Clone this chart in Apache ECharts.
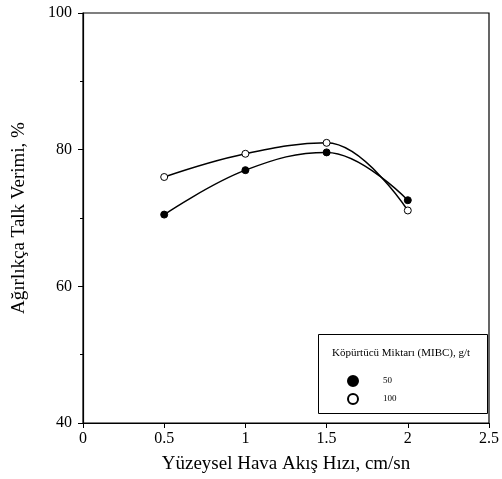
<!DOCTYPE html>
<html>
<head>
<meta charset="utf-8">
<script src="https://cdn.jsdelivr.net/npm/echarts@6/dist/echarts.min.js"></script>
<style>
  html, body { margin: 0; padding: 0; background: #fff; }
  #chart { width: 502px; height: 479px; }
</style>
</head>
<body>
<div id="chart"></div>
<script>
// values
const airSpeed = [0.5, 1, 1.5, 2];
const recovery50 = [70.5, 77.0, 79.6, 72.6];
const recovery100 = [76.0, 79.4, 81.0, 71.1];
const seriesNames = ["50", "100"];

const font = "Liberation Serif";
const pair = (xs, ys) => xs.map((x, i) => [x, ys[i]]);

const chart = echarts.init(document.getElementById("chart"));
chart.setOption({
  animation: false,
  textStyle: { fontFamily: font, color: "#000" },
  grid: {
    left: 83, right: 9, top: 13, bottom: 55,
    show: true, borderColor: "#000", borderWidth: 1.2
  },
  xAxis: {
    type: "value", min: 0, max: 2.5, interval: 0.5,
    name: "Yüzeysel Hava Akış Hızı, cm/sn",
    nameLocation: "middle", nameGap: 32,
    nameTextStyle: { fontFamily: font, fontSize: 19, color: "#000" },
    axisLine: { lineStyle: { color: "#000", width: 1.2 } },
    axisTick: { inside: false, length: 5, lineStyle: { color: "#000" } },
    axisLabel: { fontFamily: font, fontSize: 16, color: "#000", margin: 8 },
    splitLine: { show: false }
  },
  yAxis: {
    type: "value", min: 40, max: 100, interval: 20,
    name: "Ağırlıkça Talk Verimi, %",
    nameLocation: "middle", nameGap: 54,
    nameTextStyle: { fontFamily: font, fontSize: 19, color: "#000" },
    axisLine: { show: true, lineStyle: { color: "#000", width: 1.2 } },
    axisTick: { inside: false, length: 5, lineStyle: { color: "#000" } },
    minorTick: { show: true, splitNumber: 2, length: 3, lineStyle: { color: "#000" } },
    axisLabel: { fontFamily: font, fontSize: 16, color: "#000", margin: 11 },
    splitLine: { show: false }
  },
  legend: {
    orient: "vertical",
    left: 342, top: 370,
    itemGap: 6, itemWidth: 10, itemHeight: 10,
    icon: "circle",
    textStyle: { fontFamily: font, fontSize: 9, color: "#000", padding: [0, 0, 0, 20] },
    data: seriesNames
  },
  graphic: [
    {
      type: "rect", left: 318, top: 334, z: 0,
      shape: { width: 169, height: 79 },
      style: { fill: "#fff", stroke: "#000", lineWidth: 1 }
    },
    {
      type: "text", left: 332, top: 348, z: 1,
      style: { text: "Köpürtücü Miktarı (MIBC), g/t", font: "11px " + font, fill: "#000" }
    }
  ],
  series: [
    {
      name: seriesNames[0], type: "line", smooth: 0.4,
      data: pair(airSpeed, recovery50),
      symbol: "circle", symbolSize: 7,
      itemStyle: { color: "#000", borderColor: "#000", borderWidth: 1 },
      lineStyle: { color: "#000", width: 1.5 }
    },
    {
      name: seriesNames[1], type: "line", smooth: 0.4,
      data: pair(airSpeed, recovery100),
      symbol: "circle", symbolSize: 7,
      itemStyle: { color: "#fff", borderColor: "#000", borderWidth: 1 },
      lineStyle: { color: "#000", width: 1.5 }
    }
  ]
});
</script>
</body>
</html>
